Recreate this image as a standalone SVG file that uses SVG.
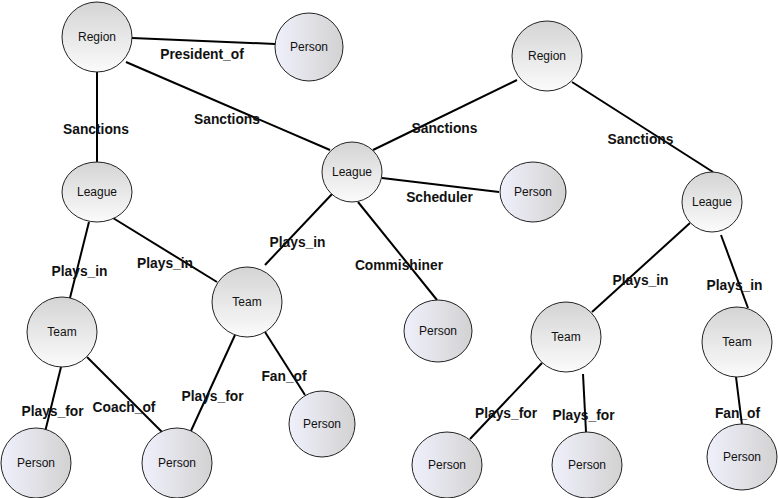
<svg xmlns="http://www.w3.org/2000/svg" width="778" height="498" viewBox="0 0 778 498">
<defs>
<linearGradient id="gEnt" x1="0" y1="0" x2="0" y2="1">
<stop offset="0" stop-color="#d4d4d4"/>
<stop offset="1" stop-color="#fbfbfb"/>
</linearGradient>
<linearGradient id="gPer" x1="0" y1="0" x2="1" y2="0">
<stop offset="0" stop-color="#f0f0fc"/>
<stop offset="1" stop-color="#d2d2d2"/>
</linearGradient>
</defs>
<style>
.ent{fill:url(#gEnt);stroke:#222;stroke-width:1}
.per{fill:url(#gPer);stroke:#222;stroke-width:1}
.nt{font-family:"Liberation Sans",Arial,sans-serif;font-size:12px;fill:#111;text-anchor:middle}
.edge{stroke:#000;stroke-width:2;fill:none}
.lbl{font-family:"Liberation Sans",Arial,sans-serif;font-size:13.8px;font-weight:bold;fill:#111;text-anchor:middle}
</style>
<rect width="778" height="498" fill="#fff"/>
<g id="connectors">
<line class="edge" x1="132" y1="38" x2="275" y2="44"/>
<line class="edge" x1="126" y1="62" x2="330" y2="150"/>
<line class="edge" x1="97" y1="72" x2="97" y2="162"/>
<line class="edge" x1="89" y1="222" x2="70" y2="298"/>
<line class="edge" x1="113" y1="218" x2="217" y2="282"/>
<line class="edge" x1="333" y1="193" x2="265" y2="265"/>
<line class="edge" x1="235" y1="335" x2="190" y2="433"/>
<line class="edge" x1="265" y1="332" x2="305" y2="395"/>
<line class="edge" x1="61" y1="367" x2="45" y2="432"/>
<line class="edge" x1="87" y1="357" x2="163" y2="433"/>
<line class="edge" x1="382" y1="178" x2="499" y2="192"/>
<line class="edge" x1="373" y1="150" x2="517" y2="80"/>
<line class="edge" x1="572" y1="82" x2="713" y2="172"/>
<line class="edge" x1="358" y1="202" x2="437" y2="300"/>
<line class="edge" x1="690" y1="223" x2="592" y2="312"/>
<line class="edge" x1="721" y1="235" x2="748" y2="308"/>
<line class="edge" x1="542" y1="363" x2="470" y2="439"/>
<line class="edge" x1="583" y1="374" x2="586" y2="432"/>
<line class="edge" x1="736" y1="377" x2="742" y2="425"/>
<text class="lbl" x="202" y="59">President_of</text>
<text class="lbl" x="96" y="134">Sanctions</text>
<text class="lbl" x="227" y="124">Sanctions</text>
<text class="lbl" x="79.5" y="276">Plays_in</text>
<text class="lbl" x="165" y="268">Plays_in</text>
<text class="lbl" x="297.5" y="247">Plays_in</text>
<text class="lbl" x="444.5" y="133">Sanctions</text>
<text class="lbl" x="640.5" y="144">Sanctions</text>
<text class="lbl" x="439.5" y="202">Scheduler</text>
<text class="lbl" x="399" y="270">Commishiner</text>
<text class="lbl" x="640.5" y="285">Plays_in</text>
<text class="lbl" x="734.5" y="290">Plays_in</text>
<text class="lbl" x="52.5" y="416">Plays_for</text>
<text class="lbl" x="124" y="412">Coach_of</text>
<text class="lbl" x="212.5" y="401">Plays_for</text>
<text class="lbl" x="284" y="381">Fan_of</text>
<text class="lbl" x="506" y="418">Plays_for</text>
<text class="lbl" x="583.5" y="420">Plays_for</text>
<text class="lbl" x="737.5" y="418">Fan_of</text>
</g>
<g id="region1"><ellipse class="ent" cx="97" cy="37" rx="35" ry="35"/><text class="nt" x="97" y="41">Region</text></g>
<g id="region2"><ellipse class="ent" cx="547" cy="56" rx="35" ry="35"/><text class="nt" x="547" y="60">Region</text></g>
<g id="league1"><ellipse class="ent" cx="97" cy="192" rx="35" ry="30"/><text class="nt" x="97" y="196">League</text></g>
<g id="league2"><ellipse class="ent" cx="352" cy="172" rx="30" ry="30"/><text class="nt" x="352" y="176">League</text></g>
<g id="league3"><ellipse class="ent" cx="712" cy="202" rx="30" ry="30"/><text class="nt" x="712" y="206">League</text></g>
<g id="team1"><ellipse class="ent" cx="62" cy="332" rx="35" ry="35"/><text class="nt" x="62" y="336">Team</text></g>
<g id="team2"><ellipse class="ent" cx="247" cy="302" rx="35" ry="35"/><text class="nt" x="247" y="306">Team</text></g>
<g id="team3"><ellipse class="ent" cx="566" cy="337" rx="35" ry="35"/><text class="nt" x="566" y="341">Team</text></g>
<g id="team4"><ellipse class="ent" cx="737" cy="342" rx="35" ry="35"/><text class="nt" x="737" y="346">Team</text></g>
<g id="person1"><ellipse class="per" cx="309" cy="47" rx="34" ry="34"/><text class="nt" x="309" y="51">Person</text></g>
<g id="person2"><ellipse class="per" cx="533" cy="192" rx="33" ry="30"/><text class="nt" x="533" y="196">Person</text></g>
<g id="person3"><ellipse class="per" cx="438" cy="331" rx="34" ry="31"/><text class="nt" x="438" y="335">Person</text></g>
<g id="person4"><ellipse class="per" cx="322" cy="424" rx="33" ry="33"/><text class="nt" x="322" y="428">Person</text></g>
<g id="person5"><ellipse class="per" cx="36" cy="463" rx="35" ry="35"/><text class="nt" x="36" y="467">Person</text></g>
<g id="person6"><ellipse class="per" cx="177" cy="463" rx="35" ry="35"/><text class="nt" x="177" y="467">Person</text></g>
<g id="person7"><ellipse class="per" cx="447" cy="465" rx="35" ry="33"/><text class="nt" x="447" y="469">Person</text></g>
<g id="person8"><ellipse class="per" cx="587" cy="465" rx="35" ry="33"/><text class="nt" x="587" y="469">Person</text></g>
<g id="person9"><ellipse class="per" cx="742" cy="457" rx="35" ry="33"/><text class="nt" x="742" y="461">Person</text></g>
</svg>
